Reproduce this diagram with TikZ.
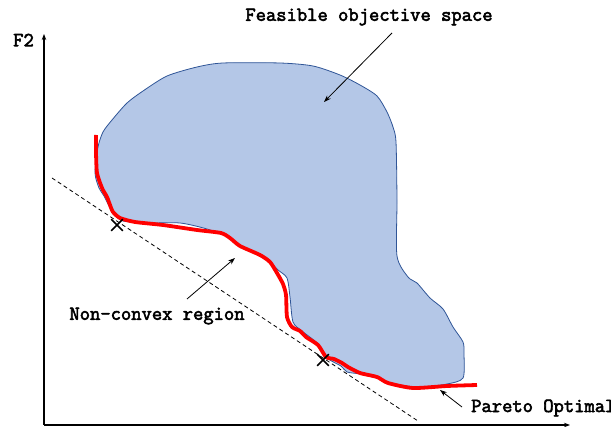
\documentclass[tikz,border=0pt]{standalone}
\usepackage{fontspec}
\newfontfamily\courbold[FakeBold=2.8]{Latin Modern Mono}
\usetikzlibrary{arrows.meta,shapes.misc}
\definecolor{blobfill}{HTML}{B4C7E7}
\definecolor{blobline}{HTML}{2F5597}
\tikzset{
  lbl/.style={font=\courbold\fontsize{20}{22}\selectfont, inner sep=0pt},
  axis/.style={line width=1.1pt, -{Stealth[length=6pt,width=4.5pt]}},
  pointer/.style={line width=0.8pt, -{Stealth[length=7pt,width=5pt]}},
  xmark/.style={cross out, draw, line width=1.7pt, minimum size=10pt, inner sep=0pt},
}
\begin{document}
\begin{tikzpicture}[x=1pt,y=-1pt]
\useasboundingbox (0,0) rectangle (611,427);
% feasible region
\draw[blobline, line width=0.8pt, fill=blobfill] plot[smooth cycle, tension=0.45] coordinates {
(98,147) (103,132) (112,120) (127,103) (143,91) (167,76) (197,67) (223,63) (280,63)
(313,66) (340,75) (360,85) (377,96) (387,112) (393,127) (396,142) (397,200) (397,256)
(408,277) (417,283) (430,298) (443,309) (453,327) (463,342) (464,354) (463,378)
(447,384) (420,387) (390,384) (380,379) (360,374) (347,372) (341,366) (327,358)
(317,343) (302,331) (293,322) (290,297) (287,278) (278,270) (270,262) (260,255)
(240,246) (228,237) (207,229) (180,223) (147,223) (123,221) (115,215) (110,208)
(104,196) (99,188) (95,173)};
% pareto front
\draw[red, line width=3.8pt, line join=round] plot[smooth, tension=0.4] coordinates {
(96,135) (96,152) (97,173) (102,188) (107,197) (110,205) (113,212) (120,218) (135,222)
(163,225) (197,230) (221,233) (230,238) (240,246) (260,255) (270,262) (277,273)
(283,284) (286,295) (287,317) (292,327) (300,331) (306,337) (318,345) (326,357)
(334,359) (342,363) (348,367) (360,373) (377,377) (388,383) (413,388) (447,386) (477,385)};
% dashed tangent
\coordinate (d1) at (52,178);
\coordinate (d2) at (418,421);
\draw[dashed, dash pattern=on 4pt off 3pt, line width=0.8pt] (d1) -- (d2);
% axes
\coordinate (o) at (44,425);
\coordinate (ytip) at (44,34);
\coordinate (xtip) at (570,425);
\draw[axis] (o) -- (ytip);
\draw[axis] (o) -- (xtip);
\node[lbl] (f2) at (23.5,40) {F2};
% X marks
\node[xmark] (x1) at (117,225) {};
\node[xmark] (x2) at (323,360) {};
% labels and pointers
\node[lbl] (feas) at (369,17) {Feasible objective space};
\coordinate (feasfrom) at (392,33);
\coordinate (feasto) at (324,102);
\draw[pointer] (feasfrom) -- (feasto);
\node[lbl] (ncr) at (157,316) {Non-convex region};
\coordinate (ncfrom) at (187,299);
\coordinate (ncto) at (235,258);
\draw[pointer] (ncfrom) -- (ncto);
\node[lbl, anchor=west] (po) at (471,408) {Pareto Optimal};
\coordinate (pofrom) at (462,407);
\coordinate (poto) at (440,390);
\draw[pointer] (pofrom) -- (poto);
\end{tikzpicture}
\end{document}
